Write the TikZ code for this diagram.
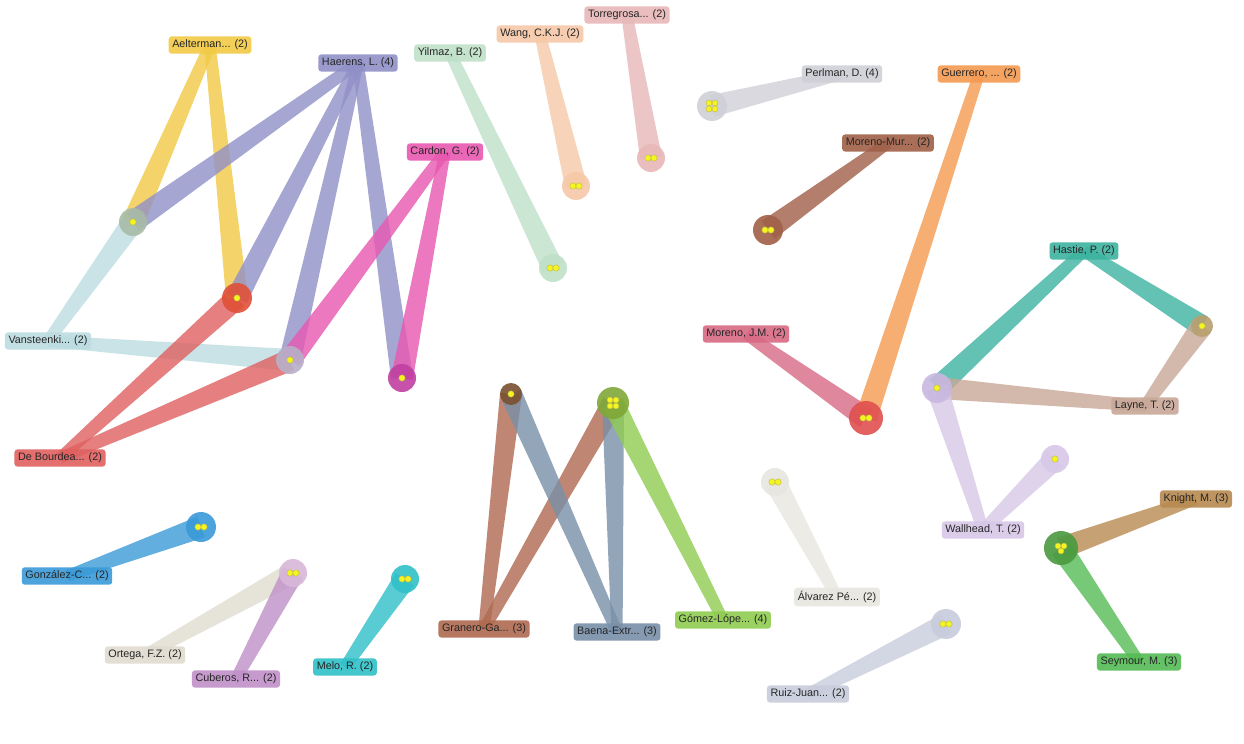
\documentclass[tikz,border=0pt]{standalone}
\usepackage{fontspec}
\setmainfont{Liberation Sans}
\usetikzlibrary{calc}
\pgfdeclarelayer{bg}
\pgfdeclarelayer{edges}
\pgfsetlayers{bg,edges,main}
\definecolor{cYel}{HTML}{F2CA45}
\definecolor{cHae}{HTML}{9090C8}
\definecolor{cVan}{HTML}{BCDCE2}
\definecolor{cRed}{HTML}{E06060}
\definecolor{cCar}{HTML}{E858B0}
\definecolor{cYil}{HTML}{BFE0C8}
\definecolor{cWan}{HTML}{F6C8A8}
\definecolor{cTor}{HTML}{E8B8B8}
\definecolor{cPer}{HTML}{D0D0D8}
\definecolor{cGue}{HTML}{F59A50}
\definecolor{cMMu}{HTML}{A06048}
\definecolor{cMJM}{HTML}{D86A85}
\definecolor{cHas}{HTML}{3DB3A0}
\definecolor{cLay}{HTML}{C8A898}
\definecolor{cWal}{HTML}{D8C8E8}
\definecolor{cKni}{HTML}{B88A50}
\definecolor{cSey}{HTML}{55BB55}
\definecolor{cAlv}{HTML}{E8E6E0}
\definecolor{cRui}{HTML}{C8CCDC}
\definecolor{cGom}{HTML}{90CC50}
\definecolor{cBae}{HTML}{7890A8}
\definecolor{cGra}{HTML}{B06A50}
\definecolor{cGon}{HTML}{3A9AD8}
\definecolor{cOrt}{HTML}{E0DCD0}
\definecolor{cCub}{HTML}{C090C8}
\definecolor{cMel}{HTML}{30C0C8}
\definecolor{dotc}{HTML}{F4F420}
\tikzset{
  lbl/.style={rounded corners=1.5pt, inner sep=1.8pt, text=black!85,
    font=\fontsize{5.4}{6.2}\selectfont, opacity=.9, text opacity=1},
  doc/.style={circle, minimum size=14pt, inner sep=0pt, opacity=.9},
  ydot/.style={fill=dotc, draw=olive!60, line width=.2pt}
}
\newcommand\taper[3]{%
  \fill[#1, opacity=.8] ($(#2)!5.5pt!90:(#3)$) -- ($(#3)!2.8pt!-90:(#2)$)
    -- ($(#3)!2.8pt!90:(#2)$) -- ($(#2)!5.5pt!-90:(#3)$) -- cycle;}
\newcommand\onedot[1]{\fill[ydot] (#1) circle (1.6pt);}
\newcommand\twodot[1]{\fill[ydot] ($(#1)+(-3,0)$) circle (1.6pt); \fill[ydot] ($(#1)+(3,0)$) circle (1.6pt);}
\newcommand\threedot[1]{\fill[ydot] ($(#1)+(-3,-2)$) circle (1.5pt); \fill[ydot] ($(#1)+(3,-2)$) circle (1.5pt); \fill[ydot] ($(#1)+(0,3)$) circle (1.5pt);}
\newcommand\fourdot[1]{\fill[ydot] ($(#1)+(-3,-3)$) circle (1.5pt); \fill[ydot] ($(#1)+(3,-3)$) circle (1.5pt); \fill[ydot] ($(#1)+(-3,3)$) circle (1.5pt); \fill[ydot] ($(#1)+(3,3)$) circle (1.5pt);}
\begin{document}
\begin{tikzpicture}[x=0.5pt, y=-0.5pt]
\begin{pgfonlayer}{bg}
\fill[white] (0,0) rectangle (1244,744);
\end{pgfonlayer}
\useasboundingbox (0,0) rectangle (1244,744);
% document nodes
\node[doc, fill={rgb,255:red,168;green,188;blue,168}] (d1) at (133,222) {};
\node[doc, fill={rgb,255:red,224;green,80;blue,56}, minimum size=15pt] (d2) at (237,298) {};
\node[doc, fill={rgb,255:red,184;green,176;blue,200}] (d3) at (290,360) {};
\node[doc, fill={rgb,255:red,192;green,64;blue,160}] (d4) at (402,378) {};
\node[doc, fill=cYil] (d5) at (553,268) {};
\node[doc, fill=cWan] (d6) at (576,186) {};
\node[doc, fill=cTor] (d7) at (651,158) {};
\node[doc, fill=cPer, minimum size=15pt] (d8) at (712,106) {};
\node[doc, fill=cMMu, minimum size=15pt] (d9) at (768,230) {};
\node[doc, fill={rgb,255:red,224;green,80;blue,80}, minimum size=17pt] (d10) at (866,418) {};
\node[doc, fill={rgb,255:red,200;green,184;blue,224}, minimum size=15pt] (d11) at (937,388) {};
\node[doc, fill={rgb,255:red,184;green,160;blue,112}, minimum size=11pt] (d12) at (1202,326) {};
\node[doc, fill=cWal] (d13) at (1055,459) {};
\node[doc, fill={rgb,255:red,74;green,154;blue,64}, minimum size=17pt] (d14) at (1061,548) {};
\node[doc, fill=cAlv] (d15) at (775,482) {};
\node[doc, fill=cRui, minimum size=15pt] (d16) at (946,624) {};
\node[doc, fill={rgb,255:red,122;green,80;blue,48}, minimum size=11pt] (d17) at (511,394) {};
\node[doc, fill={rgb,255:red,128;green,168;blue,56}, minimum size=16pt] (d18) at (613,403) {};
\node[doc, fill=cGon, minimum size=15pt] (d19) at (201,527) {};
\node[doc, fill={rgb,255:red,216;green,184;blue,216}] (d20) at (293,573) {};
\node[doc, fill=cMel] (d21) at (405,579) {};
\onedot{d1}\onedot{d2}\onedot{d3}\onedot{d4}
\twodot{d5}\twodot{d6}\twodot{d7}\fourdot{d8}\twodot{d9}\twodot{d10}
\onedot{d11}\onedot{d12}\onedot{d13}\threedot{d14}\twodot{d15}\twodot{d16}
\onedot{d17}\fourdot{d18}\twodot{d19}\twodot{d20}\twodot{d21}
% author labels
\node[lbl, fill=cYel] (ael) at (210,45) {Aelterman... (2)};
\node[lbl, fill=cHae] (hae) at (358,63) {Haerens, L. (4)};
\node[lbl, fill=cYil] (yil) at (450,53) {Yilmaz, B. (2)};
\node[lbl, fill=cWan] (wan) at (540,34) {Wang, C.K.J. (2)};
\node[lbl, fill=cTor] (tor) at (627,15) {Torregrosa... (2)};
\node[lbl, fill=cPer] (per) at (842,74) {Perlman, D. (4)};
\node[lbl, fill=cGue] (gue) at (979,74) {Guerrero, ... (2)};
\node[lbl, fill=cMMu] (mmu) at (888,143) {Moreno-Mur... (2)};
\node[lbl, fill=cCar] (car) at (445,152) {Cardon, G. (2)};
\node[lbl, fill=cVan] (van) at (48,341) {Vansteenki... (2)};
\node[lbl, fill=cRed] (deb) at (60,458) {De Bourdea... (2)};
\node[lbl, fill=cMJM] (mjm) at (746,334) {Moreno, J.M. (2)};
\node[lbl, fill=cHas] (has) at (1084,251) {Hastie, P. (2)};
\node[lbl, fill=cLay] (lay) at (1145,406) {Layne, T. (2)};
\node[lbl, fill=cWal] (wal) at (983,530) {Wallhead, T. (2)};
\node[lbl, fill=cKni] (kni) at (1196,499) {Knight, M. (3)};
\node[lbl, fill=cSey] (sey) at (1139,662) {Seymour, M. (3)};
\node[lbl, fill=cAlv] (alv) at (837,597) {Álvarez Pé... (2)};
\node[lbl, fill=cRui] (rui) at (808,694) {Ruiz-Juan... (2)};
\node[lbl, fill=cGom] (gom) at (723,620) {Gómez-Lópe... (4)};
\node[lbl, fill=cBae] (bae) at (617,632) {Baena-Extr... (3)};
\node[lbl, fill=cGra] (gra) at (484,629) {Granero-Ga... (3)};
\node[lbl, fill=cGon] (gon) at (67,576) {González-C... (2)};
\node[lbl, fill=cOrt] (ort) at (145,655) {Ortega, F.Z. (2)};
\node[lbl, fill=cCub] (cub) at (236,679) {Cuberos, R... (2)};
\node[lbl, fill=cMel] (mel) at (345,667) {Melo, R. (2)};
% tapered links
\begin{pgfonlayer}{edges}
\taper{cVan}{d1}{van}\taper{cVan}{d3}{van}
\taper{cRed}{d2}{deb}\taper{cRed}{d3}{deb}
\taper{cYel}{d1}{ael}\taper{cYel}{d2}{ael}
\taper{cHae}{d1}{hae}\taper{cHae}{d2}{hae}\taper{cHae}{d3}{hae}\taper{cHae}{d4}{hae}
\taper{cCar}{d3}{car}\taper{cCar}{d4}{car}
\taper{cYil}{d5}{yil}\taper{cWan}{d6}{wan}\taper{cTor}{d7}{tor}
\taper{cPer}{d8}{per}\taper{cMMu}{d9}{mmu}
\taper{cMJM}{d10}{mjm}\taper{cGue}{d10}{gue}
\taper{cHas}{d11}{has}\taper{cHas}{d12}{has}
\taper{cLay}{d11}{lay}\taper{cLay}{d12}{lay}
\taper{cWal}{d11}{wal}\taper{cWal}{d13}{wal}
\taper{cKni}{d14}{kni}\taper{cSey}{d14}{sey}
\taper{cAlv}{d15}{alv}\taper{cRui}{d16}{rui}
\taper{cGra}{d17}{gra}\taper{cGra}{d18}{gra}
\taper{cBae}{d17}{bae}\taper{cBae}{d18}{bae}
\taper{cGom}{d18}{gom}
\taper{cGon}{d19}{gon}\taper{cOrt}{d20}{ort}\taper{cCub}{d20}{cub}\taper{cMel}{d21}{mel}
\end{pgfonlayer}
\end{tikzpicture}
\end{document}
